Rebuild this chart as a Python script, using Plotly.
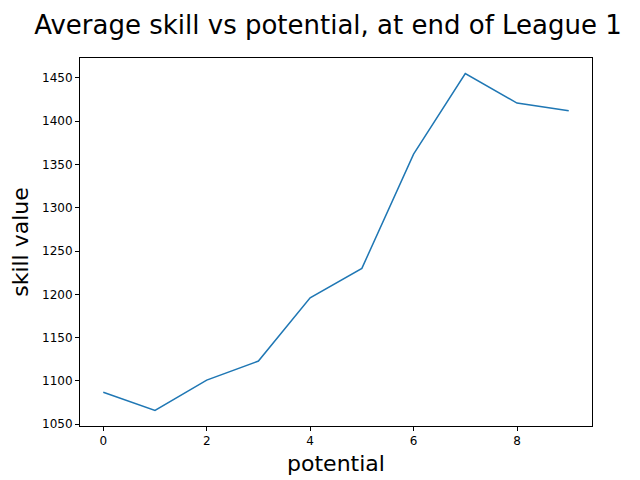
import plotly.graph_objects as go

potential = list(range(10))
skill = [1087, 1066, 1101, 1123, 1196, 1230, 1362, 1455, 1421, 1412]

fig = go.Figure(go.Scatter(x=potential, y=skill, mode="lines",
                           line=dict(color="#1f77b4", width=1.5)))

axis = dict(showgrid=False, zeroline=False, showline=True, mirror=True,
            linecolor="black", linewidth=1, ticks="outside", ticklen=4,
            tickcolor="black", tickfont=dict(size=12, color="black"))
fig.update_xaxes(**axis, range=[-0.45, 9.45], tickvals=[0, 2, 4, 6, 8],
                 title=dict(text="potential", font=dict(size=22, color="black"), standoff=8))
fig.update_yaxes(**axis, range=[1048, 1473], dtick=50,
                 title=dict(text="skill value", font=dict(size=22, color="black"), standoff=8))

fig.update_layout(
    width=640, height=480,
    margin=dict(l=72, r=56, t=50, b=62),
    paper_bgcolor="white", plot_bgcolor="white",
    font=dict(family="DejaVu Sans"),
    title=dict(text="Average skill vs potential, at end of League 1",
               x=0.5, xanchor="center", y=0.965, yanchor="middle",
               font=dict(size=26, color="black")),
    showlegend=False,
)

fig.write_html("out.html")
